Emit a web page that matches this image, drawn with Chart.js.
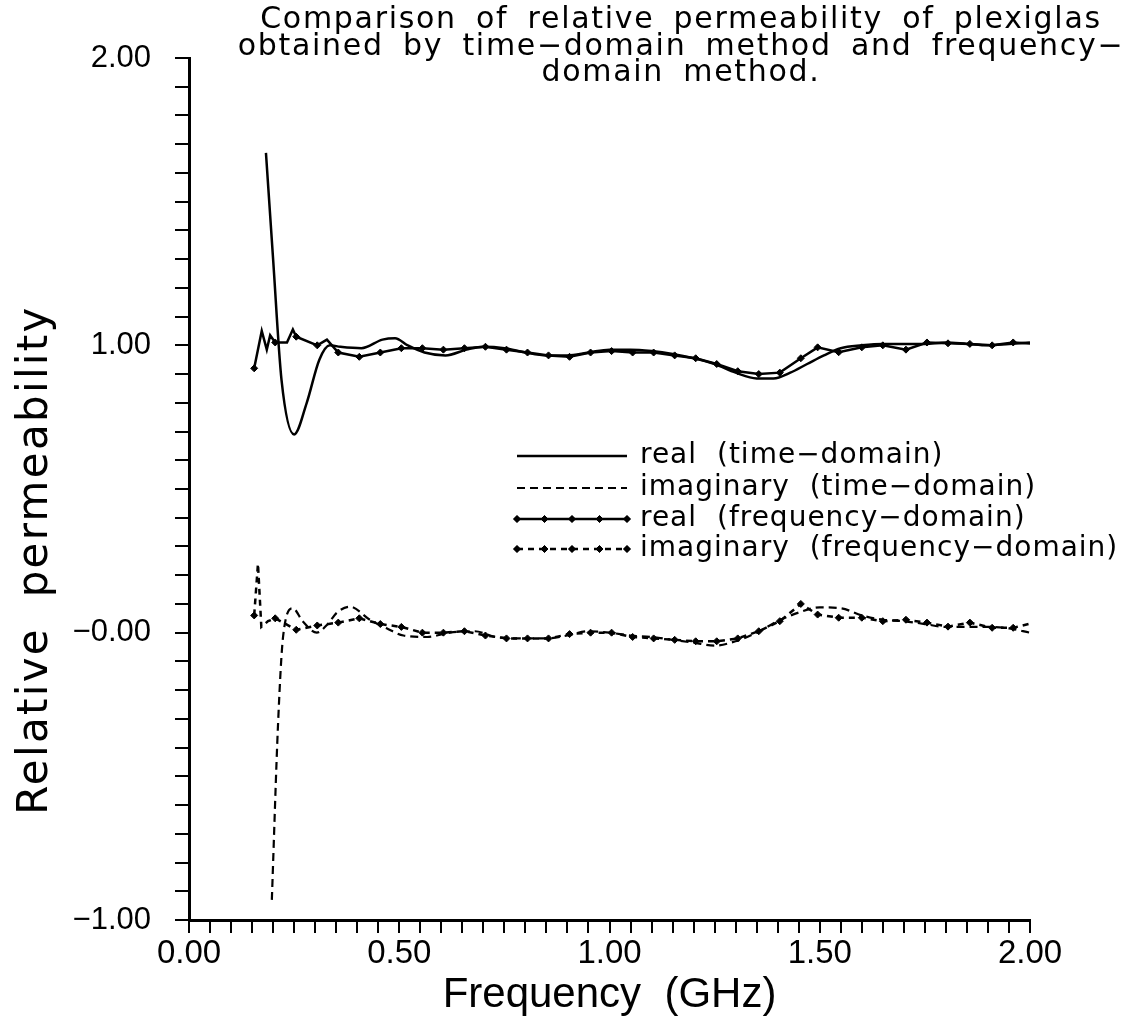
<!DOCTYPE html>
<html>
<head>
<meta charset="utf-8">
<title>Relative permeability of plexiglas</title>
<script src="https://cdn.jsdelivr.net/npm/chart.js@4.4.1/dist/chart.umd.min.js"></script>
<style>
  html, body { margin: 0; padding: 0; background: #fff; }
  canvas { display: block; }
</style>
</head>
<body>
<canvas id="perm_chart" width="1137" height="1021"></canvas>
<script>
// real part, time-domain method (solid line)
var realTimeX = [0.183, 0.20, 0.22, 0.25, 0.28, 0.31, 0.335, 0.36, 0.41, 0.46, 0.49, 0.52, 0.56, 0.61, 0.66, 0.70,
                 0.75, 0.80, 0.85, 0.90, 0.95, 1.00, 1.05, 1.10, 1.15, 1.20, 1.25, 1.30, 1.35, 1.39, 1.43,
                 1.47, 1.51, 1.55, 1.60, 1.65, 1.70, 1.75, 1.80, 1.85, 1.90, 1.95, 2.00];
var realTimeY = [1.67, 1.30, 0.88, 0.69, 0.80, 0.95, 1.00, 0.995, 0.99, 1.02, 1.025, 1.00, 0.975, 0.965, 0.985, 0.995,
                 0.99, 0.975, 0.965, 0.965, 0.975, 0.985, 0.985, 0.98, 0.97, 0.955, 0.935, 0.905, 0.885, 0.885, 0.905,
                 0.935, 0.965, 0.99, 1.00, 1.005, 1.005, 1.005, 1.01, 1.005, 1.00, 1.005, 1.01];

// imaginary part, time-domain method (dashed line)
var imagTimeX = [0.197, 0.212, 0.224, 0.247, 0.27, 0.304, 0.33, 0.352, 0.383, 0.43, 0.47, 0.51, 0.566, 0.62, 0.68,
                 0.73, 0.80, 0.85, 0.90, 0.95, 1.00, 1.05, 1.10, 1.15, 1.20, 1.25, 1.30, 1.35, 1.40, 1.45,
                 1.50, 1.55, 1.60, 1.65, 1.70, 1.75, 1.80, 1.85, 1.90, 1.95, 2.00];
var imagTimeY = [-0.93, -0.31, -0.01, 0.085, 0.04, 0.00, 0.03, 0.07, 0.09, 0.045, 0.015, -0.01, -0.015, 0.00, 0.005,
                 -0.015, -0.02, -0.02, -0.01, 0.005, 0.00, -0.01, -0.015, -0.025, -0.035, -0.045, -0.03, 0.00, 0.04, 0.07,
                 0.088, 0.085, 0.06, 0.045, 0.04, 0.03, 0.02, 0.02, 0.02, 0.015, 0.00];

// frequency-domain method: marked sample frequencies
var freqX = [0.155, 0.205, 0.255, 0.305, 0.355, 0.405, 0.455, 0.505, 0.555, 0.605, 0.655, 0.705, 0.755,
             0.805, 0.855, 0.905, 0.955, 1.005, 1.055, 1.105, 1.155, 1.205, 1.255, 1.305, 1.355, 1.405,
             1.455, 1.495, 1.545, 1.600, 1.650, 1.705, 1.755, 1.805, 1.857, 1.910, 1.960, 2.010];
var realFreqY = [0.92, 1.01, 1.03, 1.00, 0.975, 0.96, 0.975, 0.99, 0.99, 0.985, 0.99, 0.995, 0.985,
                 0.975, 0.965, 0.96, 0.975, 0.98, 0.975, 0.975, 0.965, 0.955, 0.935, 0.91, 0.90, 0.905,
                 0.955, 0.993, 0.976, 0.993, 1.00, 0.985, 1.01, 1.007, 1.005, 1.00, 1.01, 1.005];
var imagFreqY = [0.06, 0.05, 0.01, 0.025, 0.035, 0.05, 0.03, 0.02, 0.00, 0.00, 0.005, -0.01, -0.02,
                 -0.02, -0.02, -0.005, 0.00, 0.00, -0.015, -0.02, -0.025, -0.03, -0.03, -0.02, 0.005, 0.04,
                 0.10, 0.063, 0.052, 0.052, 0.04, 0.045, 0.035, 0.021, 0.035, 0.017, 0.017, 0.035];

// unmarked in-between vertices of the frequency-domain curves
var realFreqExtraX = [0.173, 0.185, 0.193, 0.233, 0.247, 0.328];
var realFreqExtraY = [1.05, 0.985, 1.035, 1.01, 1.055, 1.02];
var imagFreqExtraX = [0.164, 0.172, 0.188];
var imagFreqExtraY = [0.24, 0.02, 0.04];

var seriesLabels = ['real (time\u2212domain)', 'imaginary (time\u2212domain)',
                    'real (frequency\u2212domain)', 'imaginary (frequency\u2212domain)'];
var titleLines = ['Comparison of relative permeability of plexiglas',
                  'obtained by time\u2212domain method and frequency\u2212',
                  'domain method.'];

function pairs(xs, ys, mark) {
    return xs.map(function (x, i) { return { x: x, y: ys[i], mark: mark }; });
}
function merged(xs, ys, exs, eys) {
    return pairs(xs, ys, true).concat(pairs(exs, eys, false))
        .sort(function (a, b) { return a.x - b.x; });
}
function markRadius(ctx) { return ctx.raw && ctx.raw.mark ? 3.5 : 0; }

const FONT = '"Liberation Sans", "DejaVu Sans", sans-serif';

const data = {
    datasets: [
        {
            label: seriesLabels[0],
            data: pairs(realTimeX, realTimeY, false),
            borderColor: '#000', borderWidth: 2.5,
            pointRadius: 0, cubicInterpolationMode: 'monotone'
        },
        {
            label: seriesLabels[1],
            data: pairs(imagTimeX, imagTimeY, false),
            borderColor: '#000', borderWidth: 2.2, borderDash: [8, 5],
            pointRadius: 0, cubicInterpolationMode: 'monotone'
        },
        {
            label: seriesLabels[2],
            data: merged(freqX, realFreqY, realFreqExtraX, realFreqExtraY),
            borderColor: '#000', borderWidth: 2.5, tension: 0,
            pointStyle: 'rectRot', pointRadius: markRadius,
            pointBackgroundColor: '#000', pointBorderColor: '#000', pointBorderWidth: 1
        },
        {
            label: seriesLabels[3],
            data: merged(freqX, imagFreqY, imagFreqExtraX, imagFreqExtraY),
            borderColor: '#000', borderWidth: 2.5, borderDash: [6, 5], tension: 0,
            pointStyle: 'rectRot', pointRadius: markRadius,
            pointBackgroundColor: '#000', pointBorderColor: '#000', pointBorderWidth: 1
        }
    ]
};

function spacing(ctx, letter, word) {
    if ('letterSpacing' in ctx) ctx.letterSpacing = letter;
    if ('wordSpacing' in ctx) ctx.wordSpacing = word;
}

// title, y axis title and the in-plot legend are drawn at fixed spots
const annotate = {
    id: 'annotate',
    afterDraw(chart) {
        const ctx = chart.ctx;
        ctx.save();
        ctx.fillStyle = '#000';
        ctx.textBaseline = 'middle';

        // title
        ctx.textAlign = 'center';
        ctx.font = '30px "DejaVu Sans", sans-serif';
        spacing(ctx, '1.7px', '8px');
        var ty = [20, 47, 73];
        titleLines.forEach(function (t, i) { ctx.fillText(t, 681, ty[i]); });

        // y axis title
        ctx.save();
        ctx.translate(36, 560);
        ctx.rotate(-Math.PI / 2);
        ctx.font = '42px "DejaVu Sans", sans-serif';
        spacing(ctx, '2.3px', '14px');
        ctx.fillText('Relative permeability', 0, 0);
        ctx.restore();

        // legend
        var ly = [456, 488, 519, 549];
        var x0 = 517, x1 = 627;
        ctx.textAlign = 'left';
        ctx.font = '28px "DejaVu Sans", sans-serif';
        spacing(ctx, '1px', '10px');
        chart.data.datasets.forEach(function (ds, i) {
            ctx.save();
            ctx.strokeStyle = '#000';
            ctx.lineWidth = ds.borderWidth;
            ctx.setLineDash(ds.borderDash || []);
            ctx.beginPath();
            ctx.moveTo(x0, ly[i]);
            ctx.lineTo(x1, ly[i]);
            ctx.stroke();
            ctx.restore();
            if (ds.pointStyle) {
                for (var k = 0; k < 5; k++) {
                    Chart.helpers.drawPoint(ctx, { pointStyle: 'rectRot', radius: 3.5, borderWidth: 1 },
                        x0 + k * (x1 - x0) / 4, ly[i]);
                    ctx.fill();
                }
            }
            ctx.fillText(ds.label, 640, ly[i]);
        });
        ctx.restore();
    }
};

const config = {
    type: 'line',
    data: data,
    plugins: [annotate],
    options: {
        responsive: false,
        animation: false,
        events: [],
        layout: { padding: { left: 0, right: 107, top: 58, bottom: 0 } },
        plugins: {
            legend: { display: false },
            title: { display: false },
            tooltip: { enabled: false }
        },
        scales: {
            x: {
                type: 'linear',
                min: 0, max: 2,
                afterFit: function (s) { s.height = 101; },
                border: { display: true, color: '#000', width: 3 },
                grid: { drawOnChartArea: false, drawTicks: true, tickLength: 13, color: '#000', lineWidth: 2 },
                ticks: {
                    stepSize: 0.05, autoSkip: false, maxTicksLimit: 100, maxRotation: 0, minRotation: 0,
                    color: '#000', padding: 1, font: { family: FONT, size: 33 },
                    callback: function (v) {
                        return Math.abs(v * 2 - Math.round(v * 2)) < 1e-6 ? v.toFixed(2) : '';
                    }
                },
                title: {
                    display: true, text: 'Frequency  (GHz)', color: '#000',
                    font: { family: FONT, size: 42 }, padding: { top: 0, bottom: 0 }
                }
            },
            y: {
                type: 'linear',
                min: -1, max: 2,
                afterFit: function (s) { s.width = 189; },
                border: { display: true, color: '#000', width: 3 },
                grid: { drawOnChartArea: false, drawTicks: true, tickLength: 14, color: '#000', lineWidth: 2 },
                ticks: {
                    stepSize: 0.1, autoSkip: false, maxTicksLimit: 100,
                    color: '#000', padding: 24, font: { family: FONT, size: 31 },
                    callback: function (v) {
                        if (Math.abs(v - Math.round(v)) > 1e-6) return '';
                        var r = Math.round(v);
                        return r > 0 ? r.toFixed(2) : '\u2212' + Math.abs(r).toFixed(2);
                    }
                }
            }
        }
    }
};

var permChart = new Chart(document.getElementById('perm_chart'), config);
</script>
</body>
</html>
